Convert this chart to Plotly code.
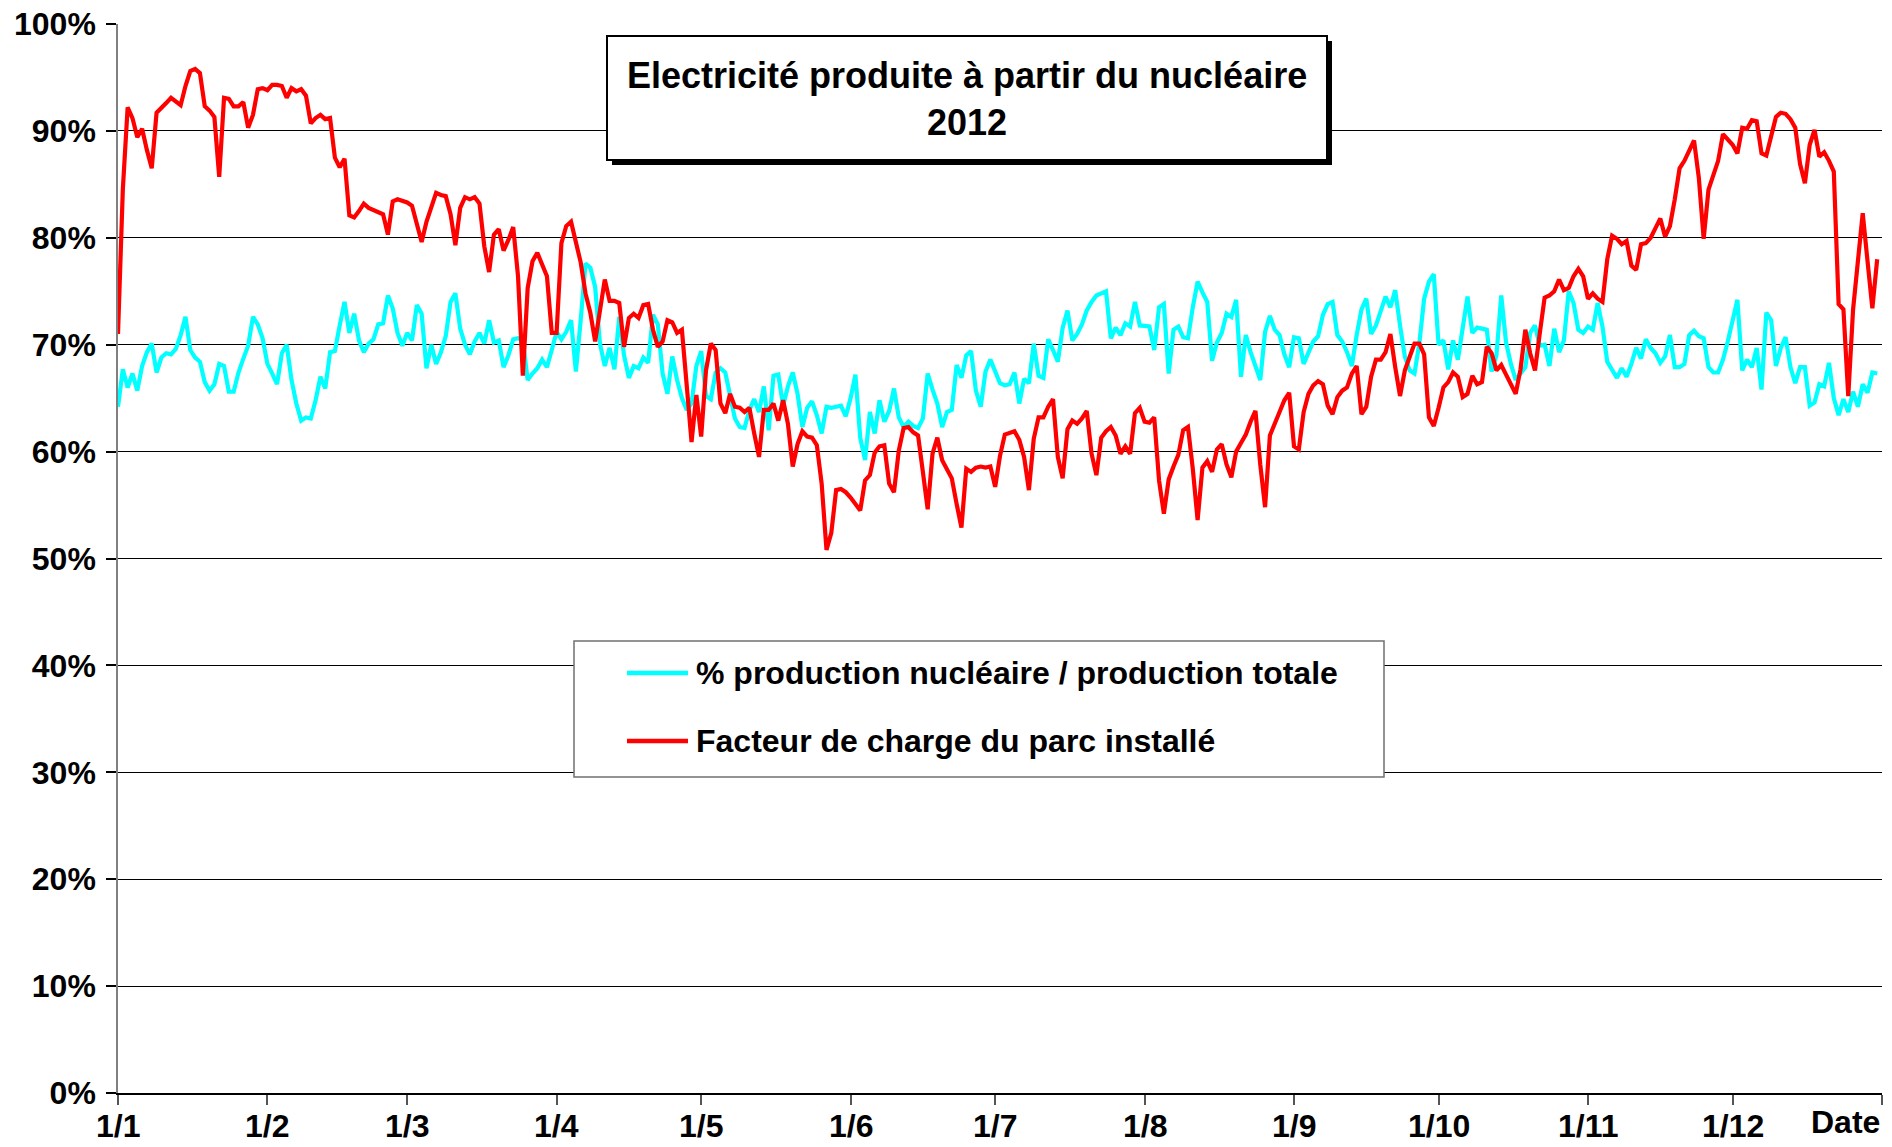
import plotly.graph_objects as go
import pandas as pd

# ---- Data (daily values, 2012, in %) ----
start_date = "2012-01-01"
n_days = 366

# Facteur de charge du parc installé (red)
load_factor = [
    71.0, 84.5, 92.2, 91.2, 89.4, 90.2, 88.2, 86.5, 91.7, 92.1,
    92.6, 93.1, 92.8, 92.4, 94.2, 95.6, 95.8, 95.4, 92.3, 91.9,
    91.3, 85.7, 93.1, 93.0, 92.3, 92.3, 92.7, 90.3, 91.5, 93.9,
    94.0, 93.8, 94.3, 94.3, 94.2, 93.1, 94.0, 93.7, 93.9, 93.3,
    90.7, 91.2, 91.5, 91.1, 91.2, 87.5, 86.6, 87.4, 82.1, 81.9,
    82.5, 83.2, 82.8, 82.6, 82.4, 82.2, 80.3, 83.4, 83.6, 83.5,
    83.3, 83.0, 81.3, 79.6, 81.5, 82.8, 84.2, 84.0, 83.9, 82.2,
    79.3, 82.8, 83.8, 83.6, 83.8, 83.2, 79.2, 76.8, 80.3, 80.8,
    78.8, 79.8, 81.0, 76.4, 67.1, 75.3, 77.8, 78.6, 77.5, 76.4,
    71.1, 71.1, 79.5, 81.1, 81.5, 79.5, 77.7, 74.8, 73.0, 70.3,
    73.3, 76.1, 74.1, 74.1, 73.9, 69.8, 72.5, 72.9, 72.5, 73.7,
    73.8, 71.4, 69.8, 70.3, 72.3, 72.1, 71.1, 71.4, 66.2, 60.9,
    65.3, 61.4, 67.6, 70.1, 69.5, 64.5, 63.6, 65.4, 64.2, 64.1,
    63.7, 64.1, 61.7, 59.5, 63.9, 63.9, 64.5, 62.9, 64.8, 62.6,
    58.6, 60.7, 61.9, 61.4, 61.3, 60.6, 57.0, 50.8, 52.4, 56.4,
    56.5, 56.2, 55.7, 55.1, 54.5, 57.3, 57.8, 59.9, 60.5, 60.6,
    57.0, 56.2, 60.1, 62.2, 62.3, 61.8, 61.5, 58.1, 54.6, 59.8,
    61.3, 59.2, 58.4, 57.5, 55.1, 52.9, 58.4, 58.1, 58.5, 58.6,
    58.5, 58.6, 56.7, 59.6, 61.6, 61.7, 61.9, 61.1, 59.5, 56.4,
    61.2, 63.2, 63.2, 64.2, 64.9, 59.5, 57.5, 62.1, 62.9, 62.6,
    63.1, 63.8, 59.8, 57.8, 61.3, 61.9, 62.3, 61.5, 59.8, 60.5,
    59.8, 63.6, 64.1, 62.8, 62.7, 63.2, 57.3, 54.2, 57.4, 58.6,
    59.7, 62.0, 62.3, 58.4, 53.6, 58.5, 59.1, 58.1, 60.2, 60.7,
    58.8, 57.6, 60.0, 60.8, 61.6, 62.8, 63.8, 58.8, 54.8, 61.5,
    62.6, 63.8, 64.8, 65.5, 60.5, 60.2, 63.7, 65.4, 66.2, 66.6,
    66.3, 64.3, 63.5, 65.1, 65.7, 66.0, 67.3, 68.0, 63.5, 64.2,
    67.0, 68.6, 68.6, 69.3, 71.0, 67.9, 65.2, 67.6, 68.9, 70.1,
    70.1, 69.1, 63.2, 62.4, 64.1, 66.0, 66.5, 67.4, 67.0, 65.1,
    65.4, 67.1, 66.3, 66.5, 69.8, 69.2, 67.6, 68.1, 67.2, 66.2,
    65.4, 67.7, 71.4, 69.2, 67.6, 71.1, 74.4, 74.6, 75.0, 76.1,
    75.1, 75.3, 76.4, 77.1, 76.4, 74.3, 74.8, 74.3, 74.0, 78.0,
    80.2, 79.9, 79.4, 79.7, 77.4, 77.0, 79.4, 79.5, 80.0, 80.9,
    81.8, 80.1, 81.1, 83.6, 86.5, 87.2, 88.2, 89.1, 85.6, 79.9,
    84.5, 85.8, 87.2, 89.7, 89.2, 88.7, 87.9, 90.3, 90.2, 91.0,
    90.9, 87.9, 87.7, 89.4, 91.3, 91.7, 91.6, 91.1, 90.3, 86.9,
    85.1, 88.7, 90.1, 87.6, 88.0, 87.2, 86.2, 73.8, 73.3, 65.2,
    73.3, 77.8, 82.3, 77.8, 73.4, 78.0,
]

# % production nucléaire / production totale (cyan)
nuclear_share = [
    64.2, 67.7, 66.0, 67.3, 65.7, 68.0, 69.3, 70.1, 67.4, 68.8,
    69.2, 69.1, 69.6, 70.9, 72.6, 69.5, 68.8, 68.4, 66.5, 65.7,
    66.3, 68.2, 68.0, 65.6, 65.6, 67.4, 68.7, 69.9, 72.6, 71.9,
    70.6, 68.2, 67.3, 66.3, 69.2, 70.0, 66.7, 64.5, 62.9, 63.2,
    63.1, 64.8, 67.0, 65.9, 69.3, 69.4, 71.8, 74.0, 71.1, 72.9,
    70.4, 69.3, 70.1, 70.5, 71.9, 72.0, 74.6, 73.4, 71.1, 69.9,
    71.1, 70.4, 73.7, 72.9, 67.8, 70.0, 68.2, 69.3, 70.8, 74.0,
    74.8, 71.5, 70.0, 69.1, 70.3, 71.1, 70.1, 72.3, 70.2, 70.4,
    67.9, 69.0, 70.5, 70.6, 70.4, 66.7, 67.3, 67.8, 68.6, 67.9,
    69.5, 71.2, 70.5, 71.2, 72.3, 67.5, 72.3, 77.6, 77.2, 75.4,
    70.1, 68.0, 69.7, 67.7, 72.6, 69.0, 66.9, 68.0, 67.8, 68.8,
    68.3, 72.8, 71.9, 67.3, 65.4, 68.9, 66.7, 65.0, 63.9, 64.5,
    68.0, 69.4, 65.2, 64.9, 67.4, 67.8, 67.4, 65.4, 63.1, 62.3,
    62.2, 63.9, 64.9, 63.7, 66.1, 62.0, 67.1, 67.2, 64.3, 66.1,
    67.4, 65.4, 62.3, 64.1, 64.7, 63.4, 61.7, 64.2, 64.1, 64.2,
    64.3, 63.3, 65.0, 67.2, 61.3, 59.2, 63.7, 61.7, 64.8, 62.8,
    63.8, 65.9, 63.2, 62.3, 62.8, 62.4, 62.2, 63.1, 67.3, 65.8,
    64.5, 62.3, 63.7, 63.9, 68.1, 66.9, 69.0, 69.4, 65.7, 64.2,
    67.5, 68.6, 67.6, 66.4, 66.2, 66.3, 67.4, 64.5, 66.8, 66.4,
    70.1, 67.1, 66.9, 70.5, 69.5, 68.4, 71.6, 73.2, 70.4, 71.0,
    71.9, 73.2, 74.0, 74.6, 74.8, 75.0, 70.6, 71.6, 70.9, 72.0,
    71.7, 74.0, 71.8, 71.7, 71.7, 69.5, 73.5, 73.8, 67.3, 71.4,
    71.7, 70.7, 70.6, 73.5, 75.9, 74.9, 74.0, 68.5, 70.2, 71.1,
    72.9, 72.6, 74.2, 67.0, 70.9, 69.3, 68.1, 66.7, 71.2, 72.7,
    71.4, 70.9, 69.1, 67.9, 70.7, 70.6, 68.2, 69.3, 70.3, 70.8,
    72.8, 73.8, 74.0, 70.9, 70.3, 69.3, 68.0, 70.9, 73.3, 74.3,
    71.0, 71.8, 73.3, 74.5, 73.5, 75.1, 71.8, 68.9, 67.6, 67.3,
    70.1, 74.3, 75.9, 76.6, 70.0, 70.4, 67.7, 70.4, 68.6, 71.7,
    74.5, 71.1, 71.6, 71.5, 71.4, 67.5, 69.0, 74.6, 70.2, 68.2,
    66.7, 67.3, 67.9, 71.1, 71.8, 69.9, 70.0, 68.0, 71.5, 69.3,
    70.4, 75.0, 73.9, 71.4, 71.1, 71.7, 71.4, 73.9, 71.7, 68.4,
    67.7, 66.9, 67.8, 67.0, 68.2, 69.7, 68.7, 70.5, 69.7, 69.2,
    68.3, 68.9, 70.9, 67.9, 67.9, 68.2, 70.9, 71.3, 70.8, 70.6,
    67.9, 67.4, 67.4, 68.6, 70.3, 72.3, 74.2, 67.6, 68.6, 67.9,
    69.7, 65.8, 73.0, 72.3, 68.0, 69.7, 70.7, 67.9, 66.4, 67.9,
    67.9, 64.3, 64.6, 66.3, 66.1, 68.3, 65.0, 63.4, 64.9, 63.7,
    65.6, 64.2, 66.3, 65.5, 67.4, 67.3,
]

month_starts = ["2012-01-01", "2012-02-01", "2012-03-01", "2012-04-01", "2012-05-01",
                "2012-06-01", "2012-07-01", "2012-08-01", "2012-09-01", "2012-10-01",
                "2012-11-01", "2012-12-01", "2013-01-01"]
month_labels = ["1/1", "1/2", "1/3", "1/4", "1/5", "1/6", "1/7", "1/8", "1/9", "1/10",
                "1/11", "1/12", ""]
y_ticks = [0, 10, 20, 30, 40, 50, 60, 70, 80, 90, 100]

title_line1 = "Electricité produite à partir du nucléaire"
title_line2 = "2012"
name_share = "% production nucléaire / production totale"
name_load = "Facteur de charge du parc installé"
x_axis_title = "Date"

# ---- Figure ----
# The page body has an 8px margin at top/left; size the figure so it reaches the window edges.
PAGE_W, PAGE_H, BODY = 1892, 1147, 8
W, H = PAGE_W - BODY, PAGE_H - BODY
# Plot area in page pixels
PL, PR, PT, PB = 118, 1882, 24, 1093
ML, MR = PL - BODY, PAGE_W - PR
MT, MB = PT - BODY, PAGE_H - PB
PW, PH = PR - PL, PB - PT

def px_x(px):
    return (px - PL) / PW

def px_y(py):
    return (PB - py) / PH

FONT = "Liberation Sans, Arial, sans-serif"
CYAN = "#00FFFF"
RED = "#FF0000"

dates = pd.date_range(start_date, periods=n_days, freq="D")

fig = go.Figure()
fig.add_trace(go.Scatter(x=dates, y=nuclear_share[:n_days], mode="lines",
                         line=dict(color=CYAN, width=4.2), name=name_share,
                         showlegend=False))
fig.add_trace(go.Scatter(x=dates, y=load_factor[:n_days], mode="lines",
                         line=dict(color=RED, width=4.2), name=name_load,
                         showlegend=False))

fig.update_layout(
    width=W, height=H,
    margin=dict(l=ML, r=MR, t=MT, b=MB, pad=0, autoexpand=False),
    paper_bgcolor="white", plot_bgcolor="white",
    font=dict(family=FONT, color="black"),
    xaxis=dict(
        type="date", range=[month_starts[0], month_starts[-1]], automargin=False,
        tickvals=month_starts, showticklabels=False,
        ticks="outside", ticklen=10, tickcolor="#555555", tickwidth=1.5,
        showline=True, linecolor="black", linewidth=1.5,
        showgrid=False, zeroline=False,
    ),
    yaxis=dict(
        range=[0, 100], tickvals=y_ticks, ticktext=[f"<b>{v}%</b>" for v in y_ticks],
        automargin=False,
        tickfont=dict(size=32, family=FONT, color="black"),
        ticks="outside", ticklen=10, tickcolor="black", tickwidth=1.5,
        showline=True, linecolor="#808080", linewidth=1.5,
        showgrid=True, gridcolor="black", gridwidth=1.2,
        zeroline=False, ticklabelstandoff=4, ticklabeloverflow="allow",
    ),
)

shapes = []
annotations = []
# x tick labels placed just under the tick marks
for d, lab in zip(month_starts, month_labels):
    if lab:
        annotations.append(dict(xref="x", yref="paper", x=d, y=px_y(1126),
                                xanchor="center", yanchor="middle", showarrow=False,
                                text=f"<b>{lab}</b>",
                                font=dict(size=32, family=FONT, color="black")))

# Title box with shadow (page pixels)
tb = dict(x0=607, x1=1327, y0=36, y1=160)
sh = 5
shapes.append(dict(type="rect", xref="paper", yref="paper", layer="above",
                   x0=px_x(tb["x0"] + sh), x1=px_x(tb["x1"] + sh),
                   y0=px_y(tb["y1"] + sh), y1=px_y(tb["y0"] + sh),
                   fillcolor="black", line=dict(width=0)))
shapes.append(dict(type="rect", xref="paper", yref="paper", layer="above",
                   x0=px_x(tb["x0"]), x1=px_x(tb["x1"]),
                   y0=px_y(tb["y1"]), y1=px_y(tb["y0"]),
                   fillcolor="white", line=dict(color="black", width=2)))
# Legend box
lb = dict(x0=574, x1=1384, y0=641, y1=777)
shapes.append(dict(type="rect", xref="paper", yref="paper", layer="above",
                   x0=px_x(lb["x0"]), x1=px_x(lb["x1"]),
                   y0=px_y(lb["y1"]), y1=px_y(lb["y0"]),
                   fillcolor="white", line=dict(color="#707070", width=1.5)))
rows = [(673, CYAN, name_share), (741, RED, name_load)]
for ry, col, txt in rows:
    shapes.append(dict(type="line", xref="paper", yref="paper", layer="above",
                       x0=px_x(627), x1=px_x(688), y0=px_y(ry), y1=px_y(ry),
                       line=dict(color=col, width=4.5)))
    annotations.append(dict(xref="paper", yref="paper", x=px_x(694), y=px_y(ry),
                            xanchor="left", yanchor="middle", showarrow=False,
                            text=f"<b>{txt}</b>",
                            font=dict(size=32, family=FONT, color="black")))

annotations.append(dict(xref="paper", yref="paper", x=px_x((tb["x0"] + tb["x1"]) / 2),
                        y=px_y(99), xanchor="center", yanchor="middle", showarrow=False,
                        text=f"<b>{title_line1}</b><br><b>{title_line2}</b>",
                        font=dict(size=36, family=FONT, color="black")))
annotations.append(dict(xref="paper", yref="paper", x=1.0, y=px_y(1122),
                        xanchor="right", yanchor="middle", showarrow=False,
                        text=f"<b>{x_axis_title}</b>",
                        font=dict(size=32, family=FONT, color="black")))

fig.update_layout(shapes=shapes, annotations=annotations)
fig.write_html("out.html")
